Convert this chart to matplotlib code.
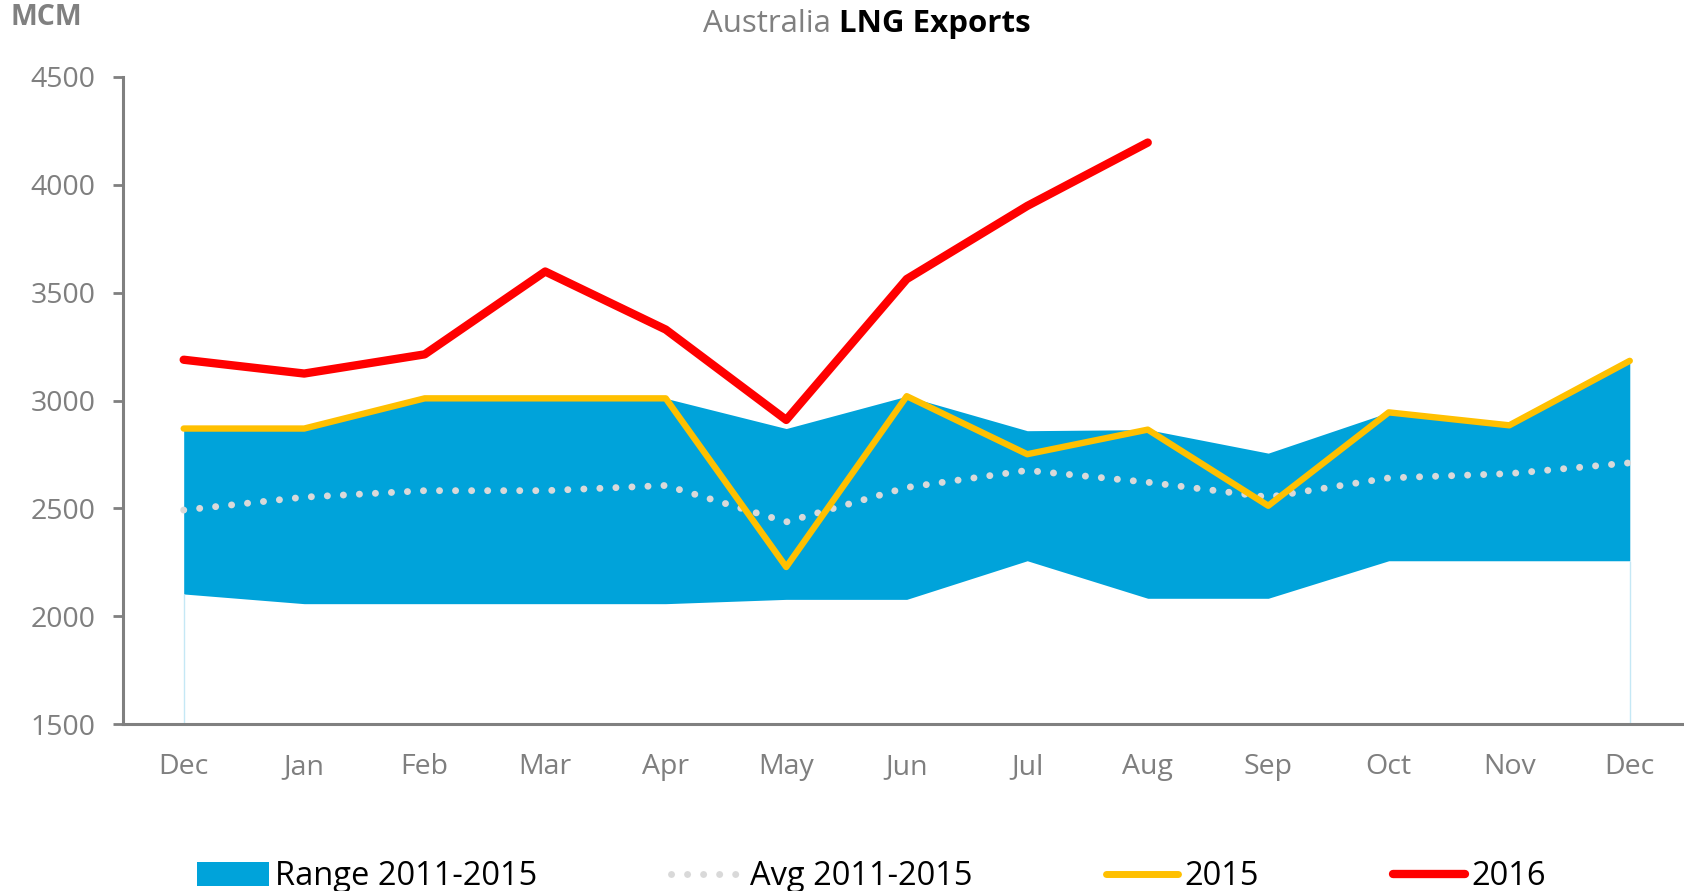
import matplotlib.pyplot as plt
from matplotlib.patches import Patch
from matplotlib.lines import Line2D

# Australia LNG exports, MCM
months = ['Dec', 'Jan', 'Feb', 'Mar', 'Apr', 'May', 'Jun',
          'Jul', 'Aug', 'Sep', 'Oct', 'Nov', 'Dec']
range_low = [2103, 2058, 2058, 2058, 2058, 2078, 2078, 2257, 2083, 2083, 2257, 2257, 2257]
range_high = [2870, 2870, 3010, 3010, 3010, 2870, 3020, 2860, 2865, 2756, 2945, 2885, 3184]
avg_11_15 = [2492, 2552, 2582, 2582, 2606, 2437, 2597, 2676, 2621, 2552, 2641, 2661, 2711]
y2015 = [2870, 2870, 3010, 3010, 3010, 2228, 3020, 2751, 2865, 2512, 2945, 2885, 3184]
y2016 = [3189, 3125, 3214, 3598, 3329, 2910, 3563, 3902, 4196]

BLUE = '#00A3DA'
GOLD = '#FFC000'
RED = '#FF0000'
DOT = '#D9D9D9'
GREY = '#808080'

plt.rcParams['font.family'] = ['Open Sans', 'DejaVu Sans']

fig = plt.figure(figsize=(16.84, 8.91), dpi=100)
ax = fig.add_axes([0.0733, 0.1874, 0.9267, 0.7262])

x = list(range(len(months)))
ax.fill_between(x, range_low, range_high, color=BLUE, lw=0, zorder=1)
# thin edges of the stacked area down to the axis
ax.vlines([x[0], x[-1]], 1500, [range_low[0], range_low[-1]], color='#C5E8F5', lw=1, zorder=1)
ax.plot(x, avg_11_15, color=DOT, lw=5, linestyle=(0, (0.01, 2.3)),
        dash_capstyle='round', zorder=2)
ax.plot(x, y2015, color=GOLD, lw=4.6, solid_capstyle='round', solid_joinstyle='round', zorder=3)
ax.plot(x[:len(y2016)], y2016, color=RED, lw=6, solid_capstyle='round',
        solid_joinstyle='round', zorder=4)

ax.set_xlim(-0.5, 12.45)
ax.set_ylim(1500, 4500)
ax.set_yticks(range(1500, 4501, 500))
ax.set_xticks(x)
ax.set_xticklabels(months)

for s in ['top', 'right']:
    ax.spines[s].set_visible(False)
for s in ['left', 'bottom']:
    ax.spines[s].set_color(GREY)
    ax.spines[s].set_linewidth(2.2)
ax.tick_params(axis='y', colors=GREY, labelsize=20.5, length=7, width=2, pad=13,
               labelcolor='#7F7F7F')
ax.tick_params(axis='x', length=0, labelsize=20.5, pad=21, labelcolor='#7F7F7F')

fig.text(0.006, 0.98, 'MCM', fontsize=20.5, fontweight='bold', color=GREY, va='center')

# two-part title
fig.canvas.draw()
r = fig.canvas.get_renderer()
t1 = fig.text(0.5, 0.973, 'Australia ', fontsize=22.5, color=GREY, va='center')
t2 = fig.text(0.5, 0.973, 'LNG Exports', fontsize=22.5, color='black', fontweight='bold',
              va='center')
w1 = t1.get_window_extent(r).width / fig.bbox.width
w2 = t2.get_window_extent(r).width / fig.bbox.width
x0 = 0.5145 - (w1 + w2) / 2
t1.set_x(x0)
t2.set_x(x0 + w1)

handles = [
    Patch(facecolor=BLUE, edgecolor='none'),
    Line2D([], [], color=DOT, lw=5, linestyle=(0, (0.01, 2.3)), dash_capstyle='round'),
    Line2D([], [], color=GOLD, lw=5, solid_capstyle='round'),
    Line2D([], [], color=RED, lw=6, solid_capstyle='round'),
]
labels = ['Range 2011-2015', 'Avg 2011-2015', '2015', '2016']
fig.legend(handles, labels, loc='center left', bbox_to_anchor=(0.117, 0.016), ncol=4,
           frameon=False, fontsize=23.5, handlelength=2.2, handleheight=0.75,
           handletextpad=0.2, columnspacing=4.1, borderpad=0, borderaxespad=0)

fig.savefig('out.png', dpi=100)
